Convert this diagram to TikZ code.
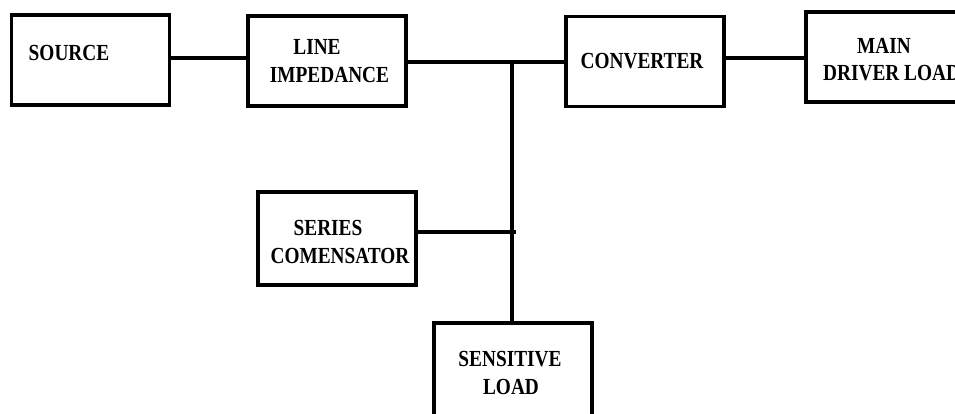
\documentclass[tikz,border=0pt]{standalone}
\usepackage{fontspec}
\setmainfont{Liberation Serif}
\newfontfamily\blockfont[FakeStretch=0.84]{Liberation Serif}
\usetikzlibrary{positioning}

\begin{document}
\begin{tikzpicture}[x=1pt, y=-1pt,
    block/.style={draw, line width=3.2pt, minimum width=158pt, minimum height=90pt, inner sep=0pt},
    txt/.style={font=\blockfont\fontsize{23}{27}\selectfont\bfseries, inner sep=0pt},
    wire/.style={line width=3.2pt}]
    \useasboundingbox (0,0) rectangle (955,414);

    % Blocks
    \node[block] (src)  at (90.5,60)  {};
    \node[block] (limp) at (327,61)   {};
    \node[block] (conv) at (645,61.5) {};
    \node[block] (main) at (885,57)   {};
    \node[block, minimum height=93pt] (ser) at (337,238.5) {};
    \node[block, minimum height=96pt] (sens) at (513,371) {};

    % Block texts
    \node[txt] (srcT)   at (69,53)    {SOURCE};
    \node[txt] (limpT1) at (317,47)   {LINE};
    \node[txt] (limpT2) at (329.5,75) {IMPEDANCE};
    \node[txt] (convT)  at (642,61.5) {CONVERTER};
    \node[txt] (mainT1) at (884,45.5) {MAIN};
    \node[txt, anchor=west] (mainT2) at (823,73.5) {DRIVER LOAD};
    \node[txt] (serT1)  at (328,227.5) {SERIES};
    \node[txt] (serT2)  at (340,255.5) {COMENSATOR};
    \node[txt] (sensT1) at (510,359)  {SENSITIVE};
    \node[txt] (sensT2) at (511,387)  {LOAD};

    % Bus points
    \coordinate (bus)  at (512,62);
    \coordinate (busS) at (516,232);

    % Wires
    \draw[wire] (src.east |- 0,58) -- (limp.west |- 0,58);
    \draw[wire] (limp.east |- bus) -- (conv.west |- bus);
    \draw[wire] (conv.east |- 0,58) -- (main.west |- 0,58);
    \draw[wire] (bus) -- (bus |- sens.north);
    \draw[wire] (ser.east |- busS) -- (busS);
\end{tikzpicture}
\end{document}
